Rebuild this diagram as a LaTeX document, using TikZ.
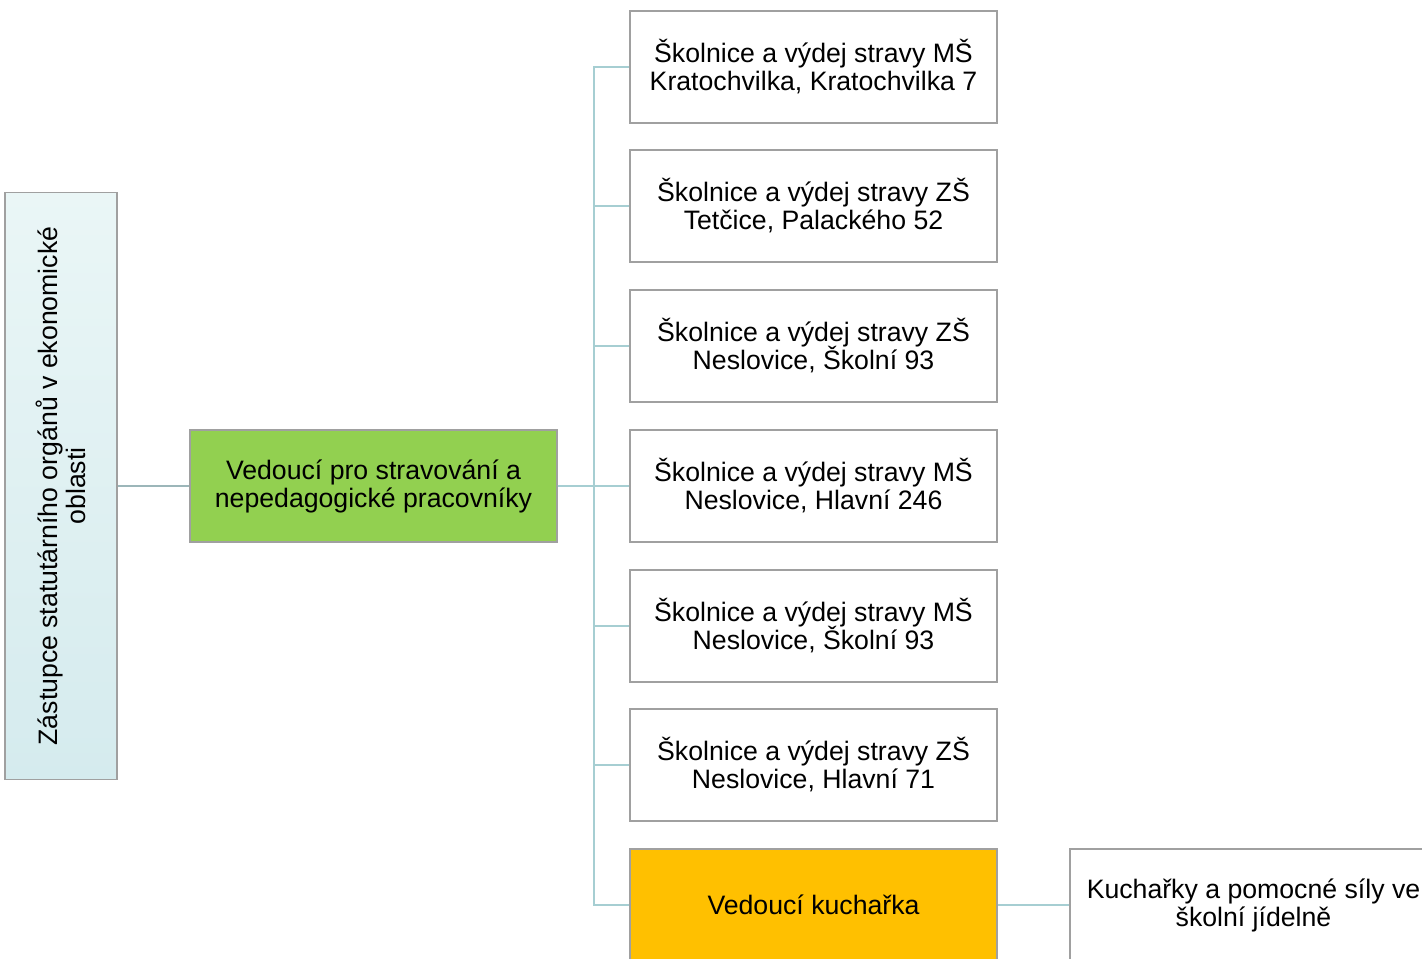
\documentclass[tikz,border=0pt]{standalone}
\usepackage{fontspec}
\setmainfont{Liberation Sans}
\definecolor{boxgray}{RGB}{160,160,160}
\definecolor{linkteal}{RGB}{166,206,210}
\definecolor{linkgray}{RGB}{156,182,185}
\definecolor{cyantop}{RGB}{234,246,246}
\definecolor{cyanbot}{RGB}{213,235,238}
\definecolor{headgreen}{RGB}{146,208,80}
\definecolor{cookorange}{RGB}{255,192,0}
\tikzset{every picture/.style={line width=0.75pt}}
\begin{document}
\begin{tikzpicture}[x=0.75pt,y=0.75pt,yscale=-1,xscale=1,
  unitbox/.style={draw=boxgray, line width=1.1pt, fill=white, minimum width=275.25pt, minimum height=84pt, align=center, inner sep=0pt, font={\fontsize{20}{21}\selectfont\lineskiplimit=-30pt\relax}},
  link/.style={draw=linkteal, line width=2.2pt}]
\useasboundingbox (0,0) rectangle (1422,958);

% Deputy
\node [unitbox, rotate=90, minimum width=440.25pt, minimum height=84pt, top color=cyantop, bottom color=cyanbot] (deputy) at (61,486) {Zástupce statutárního orgánů v ekonomické\\oblasti};
% Head
\node [unitbox, fill=headgreen] (head) at (373.5,486) {Vedoucí pro stravování a\\nepedagogické pracovníky};
% Units
\node [unitbox] (u1) at (813.5,67) {Školnice a výdej stravy MŠ\\Kratochvilka, Kratochvilka 7};
\node [unitbox] (u2) at (813.5,206) {Školnice a výdej stravy ZŠ\\Tetčice, Palackého 52};
\node [unitbox] (u3) at (813.5,346) {Školnice a výdej stravy ZŠ\\Neslovice, Školní 93};
\node [unitbox] (u4) at (813.5,486) {Školnice a výdej stravy MŠ\\Neslovice, Hlavní 246};
\node [unitbox] (u5) at (813.5,626) {Školnice a výdej stravy MŠ\\Neslovice, Školní 93};
\node [unitbox] (u6) at (813.5,765) {Školnice a výdej stravy ZŠ\\Neslovice, Hlavní 71};
\node [unitbox, fill=cookorange] (cook) at (813.5,905) {Vedoucí kuchařka};
\node [unitbox] (staff) at (1253.5,905) {Kuchařky a pomocné síly ve\\školní jídelně};

% Connectors
\coordinate (bus) at (594,486);
\draw [link, draw=linkgray] (deputy.south) -- (head.west);
\foreach \n in {u1,u2,u3,u4,u5,u6,cook}
  \draw [link] (head.east) -- (bus) |- (\n.west);
\draw [link] (cook.east) -- (staff.west);
\end{tikzpicture}
\end{document}
